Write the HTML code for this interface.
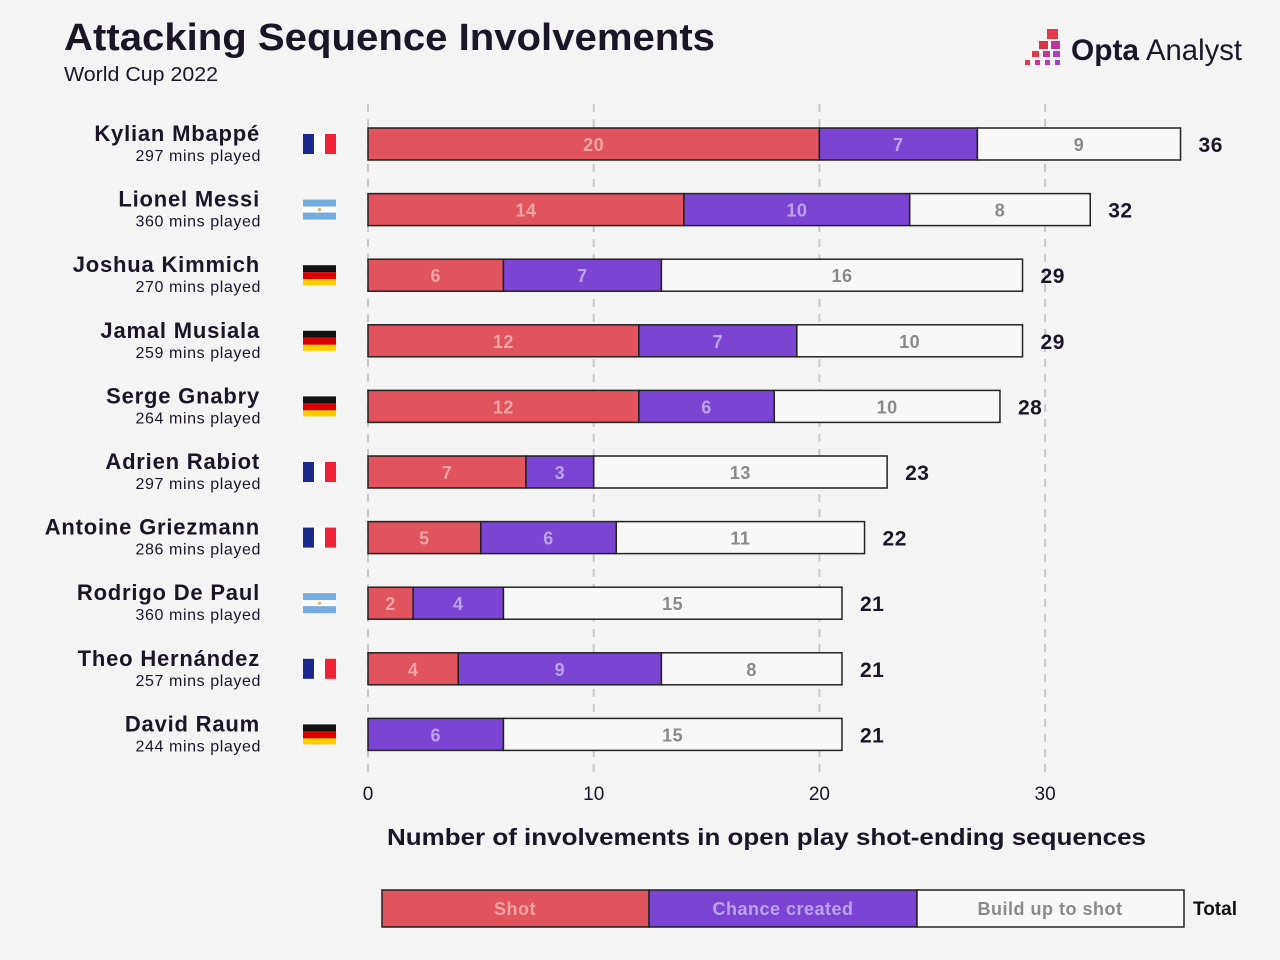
<!DOCTYPE html>
<html><head><meta charset="utf-8"><style>
body{margin:0;background:#f4f4f4;}
svg{display:block;font-family:"Liberation Sans","DejaVu Sans",sans-serif;}
</style></head><body>
<svg id="s" width="1280" height="960" xmlns="http://www.w3.org/2000/svg">
<rect width="1280" height="960" fill="#f4f4f4"/>
<text x="64" y="50" font-size="38" font-weight="bold" fill="#1a1626" textLength="651" lengthAdjust="spacingAndGlyphs">Attacking Sequence Involvements</text>
<text x="64" y="81" font-size="20" fill="#1a1626" textLength="154" lengthAdjust="spacingAndGlyphs">World Cup 2022</text>
<g>
<rect x="1047" y="29" width="11" height="10" fill="#e23a4a"/>
<rect x="1039" y="41" width="9" height="8" fill="#d8344a"/>
<rect x="1051" y="41" width="9" height="8" fill="#c0359a"/>
<rect x="1032" y="51" width="7" height="6" fill="#e03a4a"/>
<rect x="1043" y="51" width="7" height="6" fill="#c8359a"/>
<rect x="1053" y="51" width="7" height="6" fill="#a840c0"/>
<rect x="1025" y="60" width="5" height="5" fill="#e03a4a"/>
<rect x="1035" y="60" width="5" height="5" fill="#c8359a"/>
<rect x="1045" y="60" width="5" height="5" fill="#b03cb0"/>
<rect x="1055" y="60" width="5" height="5" fill="#9a44c8"/>
<text x="1071" y="60" font-size="30" font-weight="bold" fill="#1a1626" textLength="68" lengthAdjust="spacingAndGlyphs">Opta</text>
<text x="1146" y="60" font-size="30" fill="#1a1626" textLength="96" lengthAdjust="spacingAndGlyphs">Analyst</text>
</g>
<g id="grid"></g>
<g id="rows"></g>
<text x="387" y="845" font-size="23" font-weight="bold" fill="#1a1626" textLength="759" lengthAdjust="spacingAndGlyphs">Number of involvements in open play shot-ending sequences</text>
<rect x="382" y="890" width="267" height="37" fill="#e0535f" stroke="#222" stroke-width="1.5"/>
<rect x="649" y="890" width="268" height="37" fill="#7a45d2" stroke="#222" stroke-width="1.5"/>
<rect x="917" y="890" width="267" height="37" fill="#f8f8f8" stroke="#222" stroke-width="1.5"/>
<text x="515" y="915" font-size="18" font-weight="bold" text-anchor="middle" fill="#f5a3a6" letter-spacing="0.5">Shot</text>
<text x="783" y="915" font-size="18" font-weight="bold" text-anchor="middle" fill="#bba3ee" letter-spacing="0.5">Chance created</text>
<text x="1050" y="915" font-size="18" font-weight="bold" text-anchor="middle" fill="#8a8a8a" letter-spacing="0.5">Build up to shot</text>
<text x="1193" y="915" font-size="19" font-weight="bold" fill="#111">Total</text>
</svg>
<script>
var NS="http://www.w3.org/2000/svg";
function el(p,t,a,txt){var e=document.createElementNS(NS,t);for(var k in a)e.setAttribute(k,a[k]);if(txt!=null)e.textContent=txt;p.appendChild(e);return e;}
var S=22.57,X0=368;
var g=document.getElementById('grid');
[0,10,20,30].forEach(function(v){var x=X0+v*S;
el(g,'line',{x1:x,x2:x,y1:104,y2:772,stroke:'#c8c8c8','stroke-width':2,'stroke-dasharray':'8,7'});
el(g,'text',{x:x,y:800,'font-size':19,'text-anchor':'middle',fill:'#1a1626'},String(v));});
var data=[["Kylian Mbappé",297,"fr",20,7,9],["Lionel Messi",360,"ar",14,10,8],["Joshua Kimmich",270,"de",6,7,16],["Jamal Musiala",259,"de",12,7,10],["Serge Gnabry",264,"de",12,6,10],["Adrien Rabiot",297,"fr",7,3,13],["Antoine Griezmann",286,"fr",5,6,11],["Rodrigo De Paul",360,"ar",2,4,15],["Theo Hernández",257,"fr",4,9,8],["David Raum",244,"de",0,6,15]];
var r=document.getElementById('rows');
data.forEach(function(d,i){var c=144+i*65.6;
el(r,'text',{x:260,y:c-3,'font-size':22,'font-weight':'bold','text-anchor':'end',fill:'#1a1626','letter-spacing':0.8},d[0]);
el(r,'text',{x:261,y:c+17,'font-size':16,'text-anchor':'end',fill:'#1a1626','letter-spacing':0.6},d[1]+" mins played");
var fx=303,fy=c-10;
if(d[2]=="fr"){el(r,'rect',{x:fx,y:fy,width:11,height:20,fill:'#1b2a8c'});el(r,'rect',{x:fx+11,y:fy,width:11,height:20,fill:'#fff'});el(r,'rect',{x:fx+22,y:fy,width:11,height:20,fill:'#ee2436'});}
else if(d[2]=="de"){el(r,'rect',{x:fx,y:fy,width:33,height:7,fill:'#111'});el(r,'rect',{x:fx,y:fy+7,width:33,height:7,fill:'#dd0000'});el(r,'rect',{x:fx,y:fy+14,width:33,height:6,fill:'#ffce00'});}
else{el(r,'rect',{x:fx,y:fy,width:33,height:7,fill:'#74acdf'});el(r,'rect',{x:fx,y:fy+7,width:33,height:6,fill:'#fff'});el(r,'rect',{x:fx,y:fy+13,width:33,height:7,fill:'#74acdf'});el(r,'circle',{cx:fx+16.5,cy:fy+10,r:1.6,fill:'#e0b060'});}
var segs=[[d[3],'#e0535f','#f5a3a6'],[d[4],'#7a45d2','#bba3ee'],[d[5],'#f8f8f8','#8a8a8a']];
var x=X0,y=c-16;
segs.forEach(function(s){if(!s[0])return;var w=s[0]*S;
el(r,'rect',{x:x,y:y,width:w,height:32,fill:s[1],stroke:'#222','stroke-width':1.5});
el(r,'text',{x:x+w/2,y:c+7,'font-size':18,'font-weight':'bold','text-anchor':'middle',fill:s[2],'letter-spacing':0.5},String(s[0]));
x+=w;});
el(r,'text',{x:x+18,y:c+8,'font-size':21,'font-weight':'bold',fill:'#1a1626','letter-spacing':0.5},String(d[3]+d[4]+d[5]));
});
</script>
</body></html>
